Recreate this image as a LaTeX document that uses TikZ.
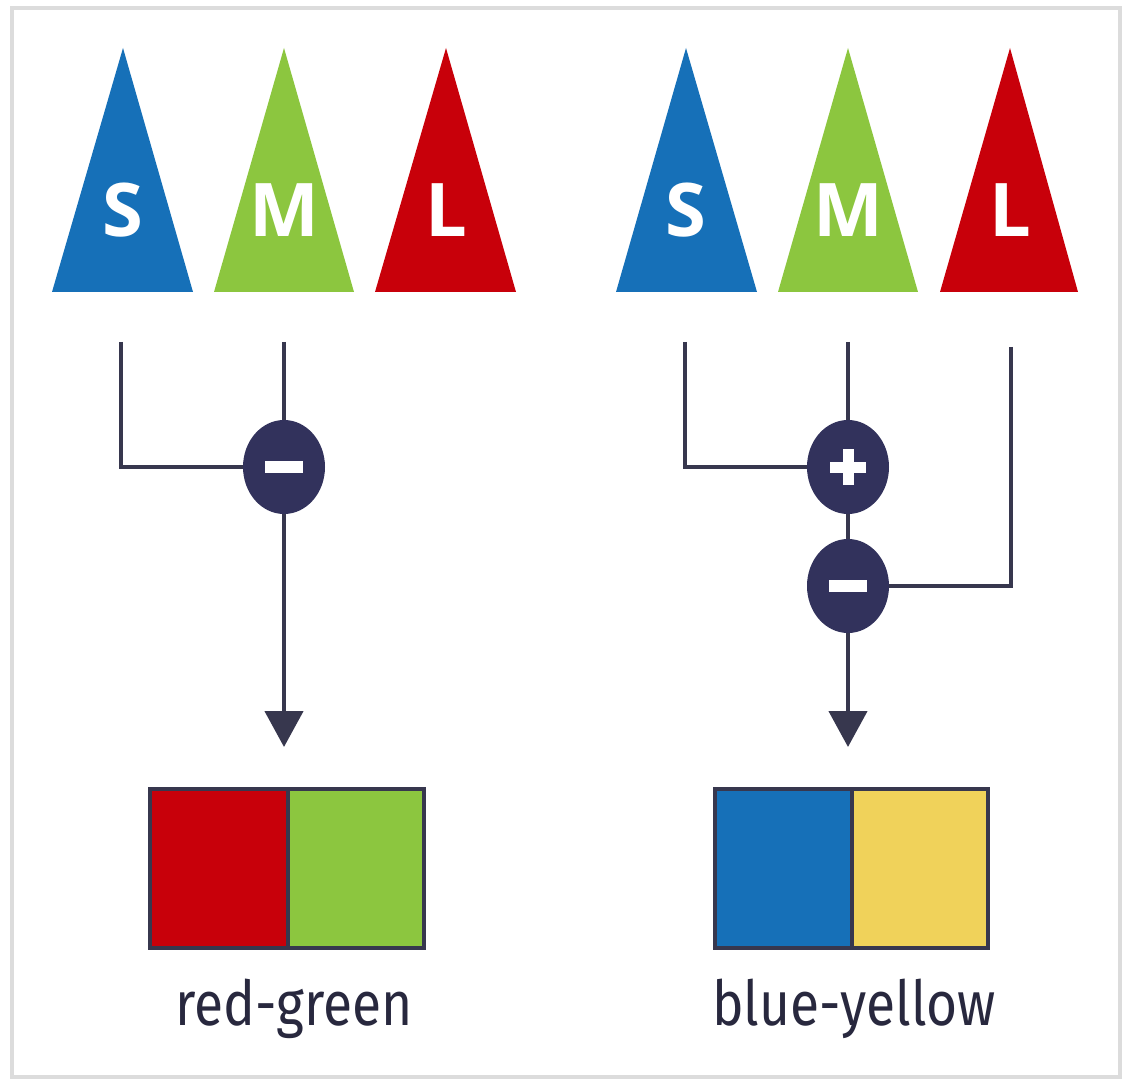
\documentclass[tikz,border=0pt]{standalone}
\usepackage{fontspec}
\setmainfont{Fira Sans}
\newfontfamily\conefont{Open Sans}
\usetikzlibrary{shapes.geometric,arrows.meta,calc}
\definecolor{cblue}{RGB}{22,112,184}
\definecolor{cgreen}{RGB}{140,198,63}
\definecolor{cred}{RGB}{200,0,10}
\definecolor{cyellow}{RGB}{240,210,90}
\definecolor{cnavy}{RGB}{50,50,92}
\definecolor{cwire}{RGB}{55,55,78}
\definecolor{ctext}{RGB}{40,40,62}
\definecolor{cframe}{RGB}{220,220,220}
\tikzset{
  conelabel/.style={text=white,font=\conefont\fontsize{74}{74}\selectfont\bfseries,inner sep=0pt},
  wire/.style={draw=cwire,line width=4.5pt},
  arrowwire/.style={wire,-{Triangle[width=38pt,length=36pt]}},
  opnode/.style={ellipse,fill=cnavy,minimum width=82pt,minimum height=94pt,inner sep=0pt},
  cbox/.style={draw=cwire,line width=4pt,minimum height=159pt,inner sep=0pt},
  caption/.style={text=ctext,font=\fontsize{62}{62}\selectfont,inner sep=0pt,anchor=base}
}
\begin{document}
\begin{tikzpicture}[x=1pt,y=-1pt]
\useasboundingbox (0,0) rectangle (1128,1083);
\fill[white] (0,0) rectangle (1128,1083);
\draw[cframe,line width=4pt] (12,8) rectangle (1120,1077);

% left group cones
\fill[cblue]  (123,48) -- (193,292) -- (52,292) -- cycle;
\fill[cgreen] (284,48) -- (354,292) -- (214,292) -- cycle;
\fill[cred]   (446,48) -- (516,292) -- (375,292) -- cycle;
\node[conelabel] (tS1) at (123,210) {S};
\node[conelabel] (tM1) at (284,210) {M};
\node[conelabel] (tL1) at (446,210) {L};

% right group cones
\fill[cblue]  (686,48) -- (757,292) -- (616,292) -- cycle;
\fill[cgreen] (848,48) -- (918,292) -- (778,292) -- cycle;
\fill[cred]   (1010,48) -- (1078,292) -- (940,292) -- cycle;
\node[conelabel] (tS2) at (686,210) {S};
\node[conelabel] (tM2) at (848,210) {M};
\node[conelabel] (tL2) at (1010,210) {L};

% left opponent channel
\coordinate (s1) at (121,342);
\coordinate (m1s) at (284,342);
\coordinate (a1) at (284,747);
\node[opnode] (c1) at (284,467) {};
\draw[wire] (s1) |- (c1.west);
\draw[wire] (m1s) -- (c1.north);
\draw[arrowwire] (c1.south) -- (a1);
\fill[white] ($(c1)+(-19,-6)$) rectangle ($(c1)+(19,6)$);

% right opponent channel
\coordinate (s2) at (685,342);
\coordinate (m2s) at (848,342);
\coordinate (l2s) at (1011,347);
\coordinate (a2) at (848,747);
\node[opnode] (p2) at (848,467) {};
\node[opnode] (n2) at (848,586) {};
\draw[wire] (s2) |- (p2.west);
\draw[wire] (m2s) -- (p2.north);
\draw[wire] (p2.south) -- (n2.north);
\draw[wire] (l2s) |- (n2.east);
\draw[arrowwire] (n2.south) -- (a2);
\fill[white] ($(p2)+(-18,-5.5)$) rectangle ($(p2)+(18,5.5)$);
\fill[white] ($(p2)+(-5.5,-18)$) rectangle ($(p2)+(5.5,18)$);
\fill[white] ($(n2)+(-19,-6)$) rectangle ($(n2)+(19,6)$);

% colour boxes
\node[cbox,fill=cred,minimum width=138pt]    (rg1) at (219,868.5) {};
\node[cbox,fill=cgreen,minimum width=136pt]  (rg2) at (356,868.5) {};
\node[cbox,fill=cblue,minimum width=137pt]   (by1) at (783.5,868.5) {};
\node[cbox,fill=cyellow,minimum width=136pt] (by2) at (920,868.5) {};

\node[caption] (lab1) at (294,1025) {\scalebox{0.86}[1]{red-green}};
\node[caption] (lab2) at (854,1025) {\scalebox{0.86}[1]{blue-yellow}};
\end{tikzpicture}
\end{document}
